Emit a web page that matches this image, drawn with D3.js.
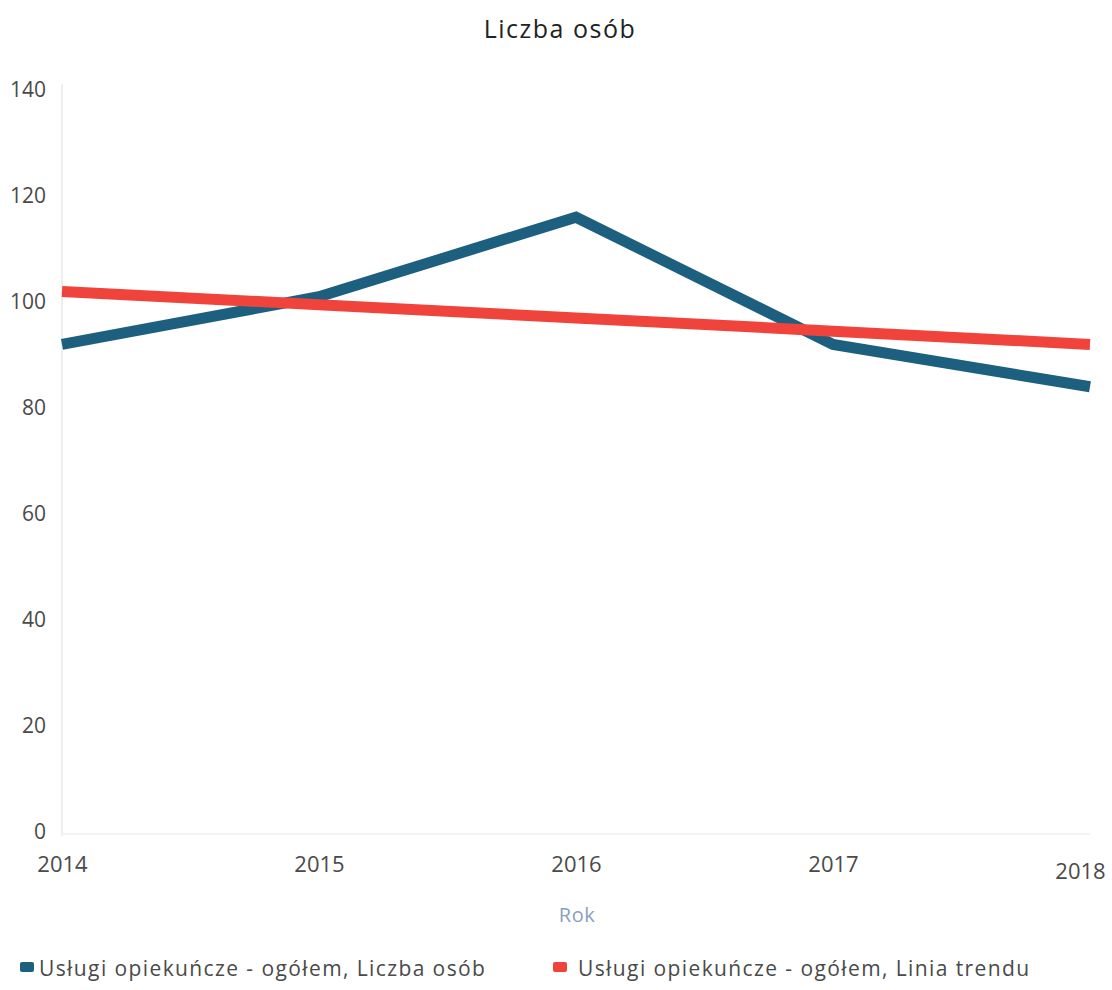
<!DOCTYPE html>
<html>
<head>
<meta charset="utf-8">
<script src="https://cdn.jsdelivr.net/npm/d3@7"></script>
<style>
  html, body { margin: 0; padding: 0; background: #fff; }
  svg { display: block; font-family: "Open Sans", "Noto Sans", sans-serif; }
</style>
</head>
<body>
<svg id="chart" width="1112" height="990"></svg>
<script>
const years = [2014, 2015, 2016, 2017, 2018];
const persons = [92, 101, 116, 92, 84];
const trend = [102, 99.5, 97, 94.5, 92];
const yTicks = [0, 20, 40, 60, 80, 100, 120, 140];
const seriesNames = ["Usługi opiekuńcze - ogółem, Liczba osób", "Usługi opiekuńcze - ogółem, Linia trendu"];
const colors = ["#1d5f7e", "#f0433c"];

const svg = d3.select("#chart");
const x = d3.scaleLinear().domain([2014, 2018]).range([62, 1090]);
const y = d3.scaleLinear().domain([0, 140]).range([832, 90]);

svg.append("text").attr("x", 560).attr("y", 38).attr("text-anchor", "middle")
  .attr("font-size", 25).attr("letter-spacing", 1.5).attr("fill", "#222").text("Liczba osób");

// faint axis lines
svg.append("line").attr("x1", 62).attr("x2", 62).attr("y1", 84).attr("y2", 836)
  .attr("stroke", "#eeeeee").attr("stroke-width", 2);
svg.append("line").attr("x1", 62).attr("x2", 1090).attr("y1", 834).attr("y2", 834)
  .attr("stroke", "#f3f3f3").attr("stroke-width", 2);

const yAxis = d3.axisLeft(y).tickValues(yTicks).tickSize(0).tickPadding(0).tickFormat(d3.format("d"));
const ya = svg.append("g").attr("transform", "translate(46,0)").call(yAxis);
ya.select(".domain").remove();
ya.selectAll("text").attr("font-size", 21).attr("fill", "#4a4a4a").attr("font-family", "Open Sans, sans-serif");

const xAxis = d3.axisBottom(x).tickValues(years).tickSize(0).tickPadding(0).tickFormat(d3.format("d"));
const xa = svg.append("g").attr("transform", "translate(0,856)").call(xAxis);
xa.select(".domain").remove();
xa.selectAll("text").attr("font-size", 22).attr("fill", "#4a4a4a").attr("font-family", "Open Sans, sans-serif")
  .attr("transform", (d, i) => i === years.length - 1 ? "translate(-10,7)" : null);

svg.append("text").attr("x", 577).attr("y", 922).attr("text-anchor", "middle")
  .attr("font-size", 20).attr("letter-spacing", 0.5).attr("fill", "#8a9fbf").text("Rok");

const line = d3.line().x((d, i) => x(years[i])).y(d => y(d));
svg.append("path").datum(persons).attr("d", line).attr("fill", "none")
  .attr("stroke", colors[0]).attr("stroke-width", 11).attr("stroke-linejoin", "miter");
svg.append("path").datum(trend).attr("d", line).attr("fill", "none")
  .attr("stroke", colors[1]).attr("stroke-width", 11);

const legendX = [20, 553];
seriesNames.forEach((name, i) => {
  const g = svg.append("g").attr("transform", `translate(${legendX[i]},976)`);
  g.append("rect").attr("x", 0).attr("y", -14).attr("width", 14).attr("height", 10).attr("rx", 2).attr("fill", colors[i]);
  g.append("text").attr("x", 19 + (i === 1 ? 6 : 0)).attr("y", 0).attr("font-size", 21)
    .attr("letter-spacing", 1.4).attr("fill", "#4a4a4a").text(name);
});
</script>
</body>
</html>
